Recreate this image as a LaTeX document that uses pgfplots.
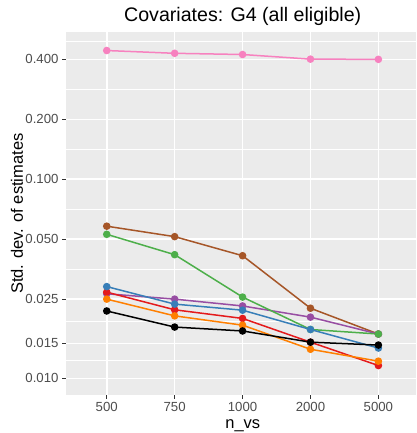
\documentclass[border=0pt]{standalone}
\usepackage{fontspec}
\setmainfont{Liberation Sans}
\usepackage{pgfplots}
\pgfplotsset{compat=1.18}

\definecolor{panelgrey}{HTML}{EBEBEB}
\definecolor{grey30}{HTML}{4D4D4D}
\definecolor{grey20}{HTML}{333333}
\definecolor{s1red}{HTML}{E41A1C}
\definecolor{s1blue}{HTML}{377EB8}
\definecolor{s1green}{HTML}{4DAF4A}
\definecolor{s1purple}{HTML}{984EA3}
\definecolor{s1orange}{HTML}{FF7F00}
\definecolor{s1brown}{HTML}{A65628}
\definecolor{s1pink}{HTML}{F781BF}

\begin{document}
\begin{tikzpicture}[x=1bp,y=1bp]
\useasboundingbox (0,0) rectangle (416,433);
\begin{axis}[
  at={(66bp,38bp)}, anchor=south west,
  scale only axis, width=350bp, height=362.7bp,
  xmin=-0.6, xmax=4.554,
  ymode=log, ymin=0.00825, ymax=0.547,
  xtick={0,1,2,3,4},
  xticklabels={500,750,1000,2000,5000},
  ytick={0.01,0.015,0.025,0.05,0.1,0.2,0.4},
  yticklabels={0.010,0.015,0.025,0.050,0.100,0.200,0.400},
  minor ytick={0.0122474,0.0193649,0.0353553,0.0707107,0.1414214,0.2828427,0.4898979},
  xmajorgrids, ymajorgrids, yminorgrids,
  major grid style={white, line width=1.6bp},
  minor grid style={white, line width=0.8bp},
  axis background/.style={fill=panelgrey},
  axis line style={draw=none},
  tick align=outside, tick pos=left,
  major tick length=4bp, minor tick length=0bp,
  tick style={grey20, line width=1bp},
  ticklabel style={font=\fontsize{13.2bp}{15bp}\selectfont, text=grey30},
  xlabel={n\_vs},
  ylabel={Std. dev. of estimates},
  label style={font=\fontsize{16.5bp}{18bp}\selectfont},
  xlabel style={at={(axis description cs:0.505,0)}, anchor=base, yshift=-33bp},
  ylabel style={at={(axis description cs:-0.14,0.5)}, anchor=center},
  title={Covariates: G4 (all eligible)},
  title style={font=\fontsize{19.6bp}{22bp}\selectfont, at={(axis description cs:0.505,1)}, anchor=base, yshift=5bp},
  every axis plot/.append style={line width=1.5bp, mark=*, mark size=3bp, mark options={solid}},
]
% pink series
\addplot[s1pink, mark options={fill=s1pink}] coordinates {(0,0.443) (1,0.429) (2,0.423) (3,0.401) (4,0.400)};
% brown series
\addplot[s1brown, mark options={fill=s1brown}] coordinates {(0,0.0581) (1,0.0515) (2,0.0413) (3,0.0225) (4,0.0167)};
% purple series
\addplot[s1purple, mark options={fill=s1purple}] coordinates {(0,0.0266) (1,0.0250) (2,0.0231) (3,0.0203) (4,0.0167)};
% red series
\addplot[s1red, mark options={fill=s1red}] coordinates {(0,0.0271) (1,0.0221) (2,0.0200) (3,0.0152) (4,0.0116)};
% orange series
\addplot[s1orange, mark options={fill=s1orange}] coordinates {(0,0.0250) (1,0.0206) (2,0.0185) (3,0.0140) (4,0.0122)};
% green series
\addplot[s1green, mark options={fill=s1green}] coordinates {(0,0.0529) (1,0.0418) (2,0.0256) (3,0.0176) (4,0.0167)};
% blue series
\addplot[s1blue, mark options={fill=s1blue}] coordinates {(0,0.0289) (1,0.0236) (2,0.0220) (3,0.0176) (4,0.0142)};
% black series
\addplot[black, mark options={fill=black}] coordinates {(0,0.0218) (1,0.0181) (2,0.0173) (3,0.0152) (4,0.0147)};
\end{axis}
\end{tikzpicture}
\end{document}
